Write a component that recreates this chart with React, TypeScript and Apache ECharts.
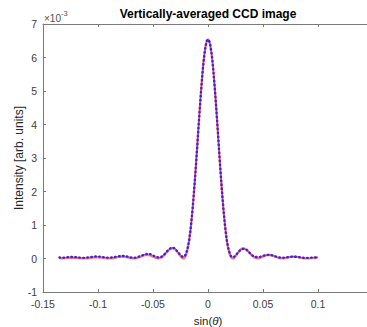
import React, { useEffect, useRef } from "react";
import * as echarts from "echarts";

// sin(theta) sample positions
const X = [
  -0.135, -0.1325, -0.13, -0.1275, -0.125, -0.1225, -0.12, -0.1175, -0.115, -0.1125,
  -0.11, -0.1075, -0.105, -0.1025, -0.1, -0.0975, -0.095, -0.0925, -0.09, -0.0875,
  -0.085, -0.0825, -0.08, -0.0775, -0.075, -0.0725, -0.07, -0.0675, -0.065, -0.0625,
  -0.06, -0.0575, -0.055, -0.0525, -0.05, -0.0475, -0.045, -0.0425, -0.04, -0.0375,
  -0.035, -0.0325, -0.03, -0.0275,
  -0.025, -0.024, -0.023, -0.022, -0.021, -0.02, -0.019, -0.018, -0.017, -0.016,
  -0.015, -0.014, -0.013, -0.012, -0.011, -0.01, -0.009, -0.008, -0.007, -0.006,
  -0.005, -0.004, -0.003, -0.002, -0.001, 0,
  0.001, 0.002, 0.003, 0.004, 0.005, 0.006, 0.007, 0.008, 0.009, 0.01,
  0.011, 0.012, 0.013, 0.014, 0.015, 0.016, 0.017, 0.018, 0.019, 0.02,
  0.021, 0.022, 0.023, 0.024, 0.025,
  0.0275, 0.03, 0.0325, 0.035, 0.0375, 0.04, 0.0425, 0.045, 0.0475, 0.05,
  0.0525, 0.055, 0.0575, 0.06, 0.0625, 0.065, 0.0675, 0.07, 0.0725, 0.075,
  0.0775, 0.08, 0.0825, 0.085, 0.0875, 0.09, 0.0925, 0.095, 0.0975, 0.1,
];

// measured intensity (x 1e-3), blue dots
const MEASURED = [
  0.03, 0.02, 0.03, 0.04, 0.05, 0.04, 0.04, 0.03, 0.02, 0.02,
  0.03, 0.04, 0.05, 0.06, 0.06, 0.05, 0.04, 0.03, 0.02, 0.03,
  0.04, 0.06, 0.07, 0.08, 0.07, 0.05, 0.03, 0.02, 0.03, 0.06,
  0.09, 0.12, 0.14, 0.13, 0.09, 0.05, 0.03, 0.05, 0.11, 0.21,
  0.29, 0.33, 0.3, 0.2,
  0.1, 0.07, 0.05, 0.05, 0.08, 0.14, 0.25, 0.39, 0.58, 0.83,
  1.13, 1.48, 1.88, 2.31, 2.76, 3.24, 3.73, 4.21, 4.68, 5.12,
  5.52, 5.88, 6.16, 6.37, 6.5, 6.54,
  6.5, 6.38, 6.18, 5.91, 5.56, 5.16, 4.72, 4.25, 3.76, 3.27,
  2.78, 2.32, 1.88, 1.48, 1.13, 0.82, 0.57, 0.38, 0.24, 0.13,
  0.07, 0.04, 0.04, 0.06, 0.09,
  0.19, 0.27, 0.29, 0.26, 0.18, 0.1, 0.05, 0.04, 0.05, 0.08,
  0.1, 0.11, 0.1, 0.08, 0.05, 0.03, 0.02, 0.03, 0.04, 0.05,
  0.06, 0.05, 0.04, 0.03, 0.02, 0.02, 0.02, 0.03, 0.03, 0.03,
];

// fitted intensity (x 1e-3), red line
const FIT = [
  0.0, 0.002, 0.008, 0.016, 0.021, 0.022, 0.018, 0.01, 0.003, 0.0,
  0.003, 0.012, 0.023, 0.031, 0.033, 0.027, 0.015, 0.005, 0.0, 0.005,
  0.019, 0.037, 0.051, 0.054, 0.045, 0.026, 0.008, 0.0, 0.009, 0.036,
  0.07, 0.099, 0.108, 0.091, 0.056, 0.017, 0.0, 0.022, 0.087, 0.18,
  0.27, 0.31, 0.28, 0.18,
  0.063, 0.025, 0.0, 0.003, 0.03, 0.1, 0.21, 0.36, 0.56, 0.81,
  1.12, 1.47, 1.87, 2.31, 2.77, 3.26, 3.75, 4.24, 4.71, 5.15,
  5.55, 5.9, 6.17, 6.38, 6.51, 6.55,
  6.51, 6.38, 6.17, 5.9, 5.55, 5.15, 4.71, 4.24, 3.75, 3.26,
  2.77, 2.31, 1.87, 1.47, 1.12, 0.81, 0.56, 0.36, 0.21, 0.1,
  0.03, 0.003, 0.0, 0.025, 0.063,
  0.18, 0.28, 0.31, 0.27, 0.18, 0.087, 0.022, 0.0, 0.017, 0.056,
  0.091, 0.108, 0.099, 0.07, 0.036, 0.009, 0.0, 0.008, 0.026, 0.045,
  0.054, 0.051, 0.037, 0.019, 0.005, 0.0, 0.005, 0.015, 0.027, 0.033,
];

const FONT = "Liberation Sans, Arial, Helvetica, sans-serif";

export default function App() {
  const ref = useRef<HTMLDivElement>(null);

  useEffect(() => {
    document.body.style.margin = "0";
    if (!ref.current) return;
    const chart = echarts.init(ref.current, undefined, { renderer: "svg" });
    const fmtX = (v: number) => (v > 0.12 ? "" : parseFloat(v.toFixed(4)).toString());
    const axisCommon = {
      type: "value" as const,
      min: -0.15,
      max: 0.15,
      interval: 0.05,
      splitLine: { show: false },
      axisLine: { onZero: false, lineStyle: { color: "#7a7a7a", width: 1 } },
      axisTick: { inside: true, length: 3, lineStyle: { color: "#7a7a7a" } },
    };
    chart.setOption({
      animation: false,
      backgroundColor: "#ffffff",
      grid: {
        left: 43,
        top: 24,
        right: -6,
        bottom: 35,
        containLabel: false,
        outerBoundsMode: "none",
      },
      xAxis: [
        {
          ...axisCommon,
          position: "bottom",
          axisLabel: {
            formatter: fmtX,
            color: "#404040",
            fontSize: 10.5,
            fontFamily: FONT,
            margin: 6,
          },
          name: "sin({i|θ})",
          nameLocation: "middle",
          nameGap: 23,
          nameTextStyle: {
            color: "#262626",
            fontSize: 11.5,
            fontFamily: FONT,
            rich: { i: { fontStyle: "italic", fontSize: 11.5, fontFamily: FONT, color: "#262626" } },
          },
        },
        {
          ...axisCommon,
          position: "top",
          axisLabel: { show: false },
        },
      ],
      yAxis: {
        type: "value",
        min: -1,
        max: 7,
        interval: 1,
        splitLine: { show: false },
        axisLine: { show: true, onZero: false, lineStyle: { color: "#7a7a7a", width: 1 } },
        axisTick: { show: true, inside: true, length: 3, lineStyle: { color: "#7a7a7a" } },
        axisLabel: { color: "#404040", fontSize: 10.5, fontFamily: FONT, margin: 6 },
      },
      graphic: [
        {
          type: "text",
          x: 208,
          y: 14,
          style: {
            text: "Vertically-averaged CCD image",
            textAlign: "center",
            textVerticalAlign: "middle",
            fontSize: 12,
            fontWeight: "bold",
            fontFamily: FONT,
            fill: "#000000",
          },
        },
        {
          type: "text",
          x: 19,
          y: 158,
          rotation: Math.PI / 2,
          style: {
            text: "Intensity [arb. units]",
            textAlign: "center",
            textVerticalAlign: "middle",
            fontSize: 12,
            fontFamily: FONT,
            fill: "#262626",
          },
        },
        {
          type: "text",
          x: 44,
          y: 18,
          style: {
            text: "×10",
            textAlign: "left",
            textVerticalAlign: "middle",
            fontSize: 10,
            fontFamily: FONT,
            fill: "#505050",
          },
        },
        {
          type: "text",
          x: 61,
          y: 13,
          style: {
            text: "-3",
            textAlign: "left",
            textVerticalAlign: "middle",
            fontSize: 7.5,
            fontFamily: FONT,
            fill: "#505050",
          },
        },
      ],
      series: [
        {
          type: "line",
          data: X.map((x, i) => [x, FIT[i]]),
          showSymbol: false,
          lineStyle: { color: "#ff6a6a", width: 2.2, opacity: 0.9 },
          z: 2,
        },
        {
          type: "line",
          data: X.map((x, i) => [x, MEASURED[i]]),
          showSymbol: false,
          lineStyle: { color: "#3a3aff", width: 1.1, opacity: 0.45 },
          z: 3,
        },
        {
          type: "line",
          data: X.map((x, i) => [x, MEASURED[i]]),
          showSymbol: false,
          lineStyle: {
            color: "#4a1ed0",
            width: 2.4,
            type: [0.5, 3.5],
            cap: "round",
          },
          z: 4,
        },
      ],
    });
    return () => chart.dispose();
  }, []);

  return <div ref={ref} style={{ width: 367, height: 327 }} />;
}
